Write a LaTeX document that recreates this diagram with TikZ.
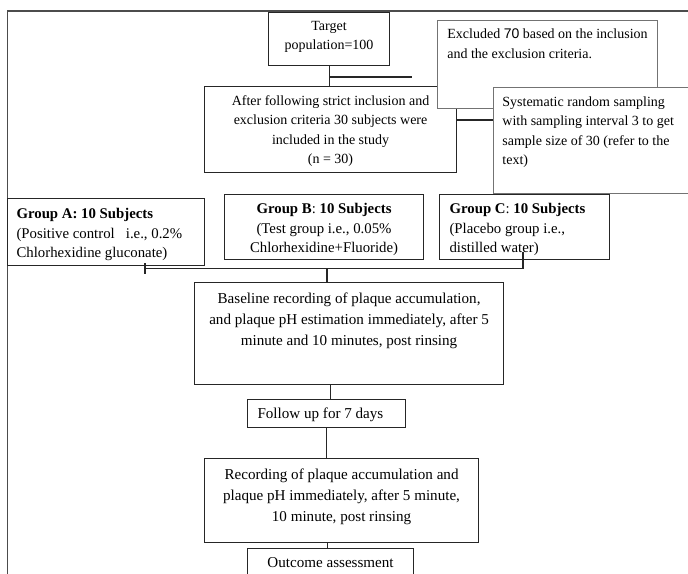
\documentclass[tikz,border=0pt]{standalone}
\usepackage{fontspec}
\setmainfont{Liberation Serif}
\newfontfamily\numfont{Liberation Sans}
\usetikzlibrary{calc}

\newcommand{\boxtext}[5]{\parbox[c][#2][t]{#1}{\vspace*{#3}#4#5}}

\tikzset{
    box/.style={draw=black!85, line width=1.1pt, inner sep=0pt, anchor=north west},
    sidebox/.style={box, draw=black!55, line width=0.8pt, fill=white},
    link/.style={draw=black!85, line width=1.1pt},
    frame/.style={draw=black!70, line width=1.3pt},
    toptext/.style={font=\fontsize{14}{19.5}\selectfont},
    grouptext/.style={font=\fontsize{14.8}{19.2}\selectfont},
    lowtext/.style={font=\fontsize{15.1}{21.2}\selectfont},
}

\begin{document}
\begin{tikzpicture}[x=1pt,y=-1pt]
                \useasboundingbox (0,0) rectangle (688,573);
                \clip (0,0) rectangle (688,573);
                \draw[frame] (7.5,11) rectangle (720,600);

                \node[box,toptext] (target) at (268,12)
                    {\boxtext{121pt}{53pt}{8.3pt}{\centering}{Target\\population=100}};
                \node[box,toptext] (after) at (204,86)
                    {\boxtext{252pt}{86pt}{8.6pt}{\centering}{After following strict inclusion and\\exclusion criteria 30 subjects were\\included in the study\\(n = 30)}};
                \node[sidebox,toptext] (excl) at (437,20)
                    {\boxtext{220pt}{88pt}{8.6pt}{\raggedright\leftskip=10pt}{Excluded {\numfont 70} based on the inclusion\\and the exclusion criteria.}};
                \node[sidebox,toptext] (syst) at (493,87)
                    {\boxtext{215pt}{106pt}{9pt}{\raggedright\leftskip=9pt}{Systematic random sampling\\with sampling interval 3 to get\\sample size of 30 (refer to the\\text)}};

                \node[box,grouptext] (groupA) at (7,198)
                    {\boxtext{197pt}{67pt}{10.1pt}{\raggedright\leftskip=9pt}{\textbf{Group A: 10 Subjects}\\(Positive control~~~i.e., 0.2\%\\Chlorhexidine gluconate)}};
                \node[box,grouptext] (groupB) at (224,194)
                    {\boxtext{199pt}{65pt}{9.1pt}{\centering}{\textbf{Group B}: \textbf{10 Subjects}\\(Test group i.e., 0.05\%\\Chlorhexidine+Fluoride)}};
                \node[box,grouptext] (groupC) at (439,194)
                    {\boxtext{170pt}{65pt}{9.1pt}{\raggedright\leftskip=10pt}{\textbf{Group C}: \textbf{10 Subjects}\\(Placebo group i.e.,\\distilled water)}};

                \node[box,lowtext] (base) at (194,282)
                    {\boxtext{309pt}{102pt}{10.3pt}{\centering}{Baseline recording of plaque accumulation,\\and plaque pH estimation immediately, after 5\\minute and 10 minutes, post rinsing}};
                \node[box,lowtext] (follow) at (247,399)
                    {\boxtext{158pt}{28pt}{8.6pt}{\raggedright\leftskip=10pt}{Follow up for 7 days}};
                \node[box,lowtext] (record) at (204,458)
                    {\boxtext{274pt}{84pt}{9.9pt}{\centering}{Recording of plaque accumulation and\\plaque pH immediately, after 5 minute,\\10 minute, post rinsing}};
                \node[box,lowtext] (outcome) at (247,548)
                    {\boxtext{166pt}{40pt}{9.3pt}{\centering}{Outcome assessment}};

                % connectors
                \coordinate (stub) at (412,77);
                \coordinate (sysjoin) at (493,120);
                \coordinate (busL) at (145,268.5);
                \coordinate (busB) at (327,268.5);
                \coordinate (busR) at (523,268.5);
                \coordinate (cTop) at (523,252);

                \draw[link] (target.south) -- (target.south |- after.north);
                \draw[link] (target.south |- stub) -- (stub);
                \draw[link] (after.east |- sysjoin) -- (sysjoin);
                \draw[link] (cTop) -- (busR) -- (busL);
                \draw[link] ([yshift=5.5pt]busL) -- ([yshift=-5.5pt]busL);
                \draw[link] (busB) -- (busB |- base.north);
                \draw[link] ([xshift=4pt]follow.north |- base.south) -- ([xshift=4pt]follow.north);
                \draw[link] (follow.south) -- (follow.south |- record.north);
                \draw[link] ([xshift=-3pt]outcome.north |- record.south) -- ([xshift=-3pt]outcome.north);
\end{tikzpicture}
\end{document}
